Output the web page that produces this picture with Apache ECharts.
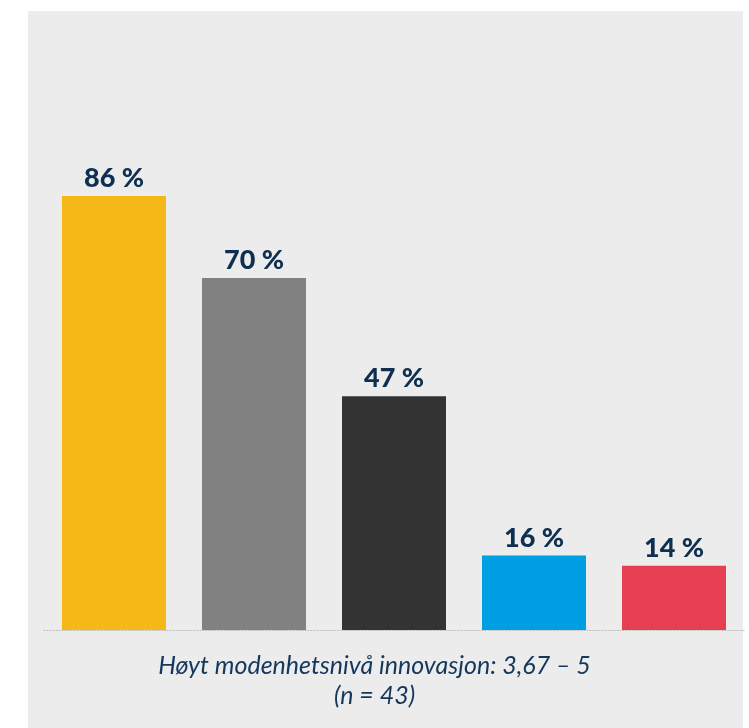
<!DOCTYPE html>
<html>
<head>
<meta charset="utf-8">
<style>
    body{
        margin: 0;
        background: #fff;
    }
    .panel{
        position: absolute;
        left: 28px;
        top: 11px;
        width: 715px;
        height: 717px;
        background: #ececec;
    }
    #main{
        position: absolute;
        left: 0;
        top: 0;
        width: 749px;
        height: 728px;
    }
</style>
<script src="https://cdn.jsdelivr.net/npm/echarts@6/dist/echarts.min.js"></script>
</head>
<body>
<div class="panel"></div>
<div id="main"></div>
<script>
    // data
    var categories = ['A', 'B', 'C', 'D', 'E'];
    var values = [86, 70, 47, 16, 14];
    var barColors = ['#f6b817', '#818181', '#333333', '#009fe3', '#e63e52'];
    var caption = 'Høyt modenhetsnivå innovasjon: 3,67 – 5\n(n = 43)';

    var myChart = echarts.init(document.getElementById('main'));
    var option = {
        animation: false,
        title: {
            text: caption,
            left: 'center',
            top: 646,
            textStyle: {
                fontFamily: 'Lato',
                fontStyle: 'italic',
                fontWeight: 'normal',
                fontSize: 25,
                lineHeight: 30,
                color: '#14385c'
            }
        },
        grid: {
            left: 44,
            right: 5,
            top: 124,
            bottom: 98
        },
        xAxis: {
            type: 'category',
            data: categories,
            axisLine: {
                lineStyle: { color: '#b8b8b8', type: [1, 2], width: 1 }
            },
            axisTick: { show: false },
            axisLabel: { show: false }
        },
        yAxis: {
            type: 'value',
            min: 1.5,
            max: 100,
            show: false,
            splitLine: { show: false }
        },
        series: [{
            type: 'bar',
            barWidth: 104,
            data: values.map(function (v, i) {
                return { value: v, itemStyle: { color: barColors[i] } };
            }),
            label: {
                show: true,
                position: 'top',
                distance: 4,
                formatter: '{c} %',
                fontFamily: 'Lato',
                fontWeight: 900,
                fontSize: 27,
                color: '#0e2f50'
            }
        }]
    };
    myChart.setOption(option);
</script>
</body>
</html>
